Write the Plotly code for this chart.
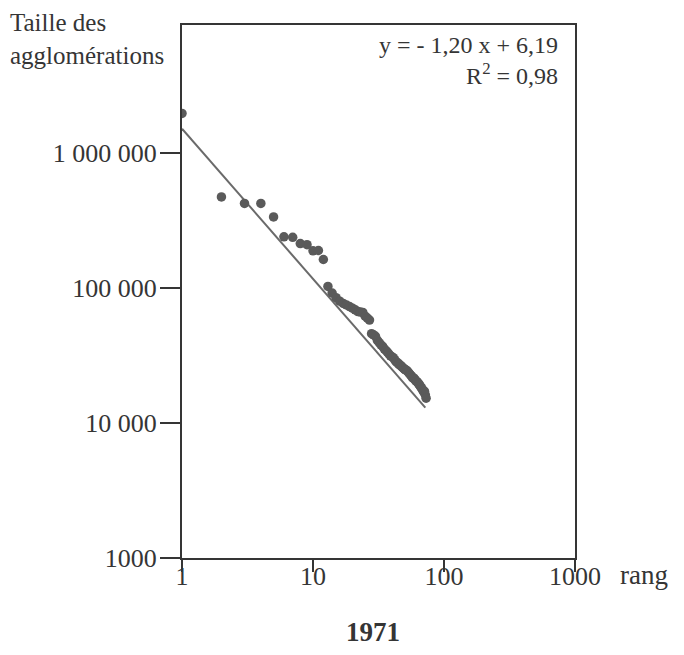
import plotly.graph_objects as go

# rank-size data (1971)
ranks = list(range(1, 74))
sizes = [
    1970000, 474000, 424000, 424000, 337000, 240000, 238000, 214000, 210000, 189000,
    190000, 163000, 103000, 92000, 85000, 80000, 77000, 75000, 73000, 71000,
    69000, 67000, 66500, 66000, 62000, 60000, 58000, 46000, 45000, 44000,
    41000, 39500, 38000, 37000, 35500, 34500, 33500, 32500, 31500, 31000,
    30500, 29500, 28500, 28000, 27500, 27000, 26500, 26000, 25500, 25000,
    24800, 24500, 24000, 23500, 23000, 22500, 22000, 21500, 21500, 21000,
    20500, 20300, 20000, 19500, 19200, 18800, 18300, 17900, 17500, 17000,
    17200, 16200, 15300,
]

# fitted line as drawn
fit_rank = [1, 72]
fit_size = [1520000, 13000]

x_ticks = [1, 10, 100, 1000]
x_labels = ["1", "10", "100", "1000"]
y_ticks = [1000, 10000, 100000, 1000000]
y_labels = ["1000", "10 000", "100 000", "1 000 000"]

ink = "#353535"
font = "Liberation Serif"

fig = go.Figure()
fig.add_trace(go.Scatter(x=fit_rank, y=fit_size, mode="lines",
                         line=dict(color="#6a6a6a", width=2), hoverinfo="skip"))
fig.add_trace(go.Scatter(x=ranks, y=sizes, mode="markers",
                         marker=dict(color="#5a5a5a", size=9.5)))

axis_common = dict(
    type="log", showgrid=False, zeroline=False,
    showline=True, linecolor=ink, linewidth=2, mirror=True,
    ticks="outside", tickcolor=ink, tickwidth=2,
    tickfont=dict(family=font, size=26, color=ink),
)
fig.update_xaxes(range=[0, 3], tickvals=x_ticks, ticktext=x_labels, ticklen=12,
                 ticklabelstandoff=-18, **axis_common)
fig.update_yaxes(range=[3, 6.95], tickvals=y_ticks, ticktext=y_labels, ticklen=20,
                 ticklabelstandoff=-2, **axis_common)

fig.add_annotation(text="Taille des<br>agglomérations", xref="paper", yref="paper",
                   x=-0.443, y=1.033, xanchor="left", yanchor="top", align="left",
                   showarrow=False, font=dict(family=font, size=25, color=ink))
fig.add_annotation(text="y = - 1,20 x + 6,19<br>R<sup>2</sup> = 0,98", xref="paper", yref="paper",
                   x=0.962, y=0.99, xanchor="right", yanchor="top", align="right",
                   showarrow=False, font=dict(family=font, size=24, color=ink))
fig.add_annotation(text="rang", xref="paper", yref="paper",
                   x=1.11, y=-0.032, xanchor="left", yanchor="middle",
                   showarrow=False, font=dict(family=font, size=27, color=ink))
fig.add_annotation(text="<b>1971</b>", xref="paper", yref="paper",
                   x=0.485, y=-0.138, xanchor="center", yanchor="middle",
                   showarrow=False, font=dict(family=font, size=27, color=ink))

fig.update_layout(
    width=684, height=655,
    margin=dict(l=174, r=117, t=17, b=105),
    paper_bgcolor="white", plot_bgcolor="white",
    showlegend=False,
)

fig.write_html("out.html")
